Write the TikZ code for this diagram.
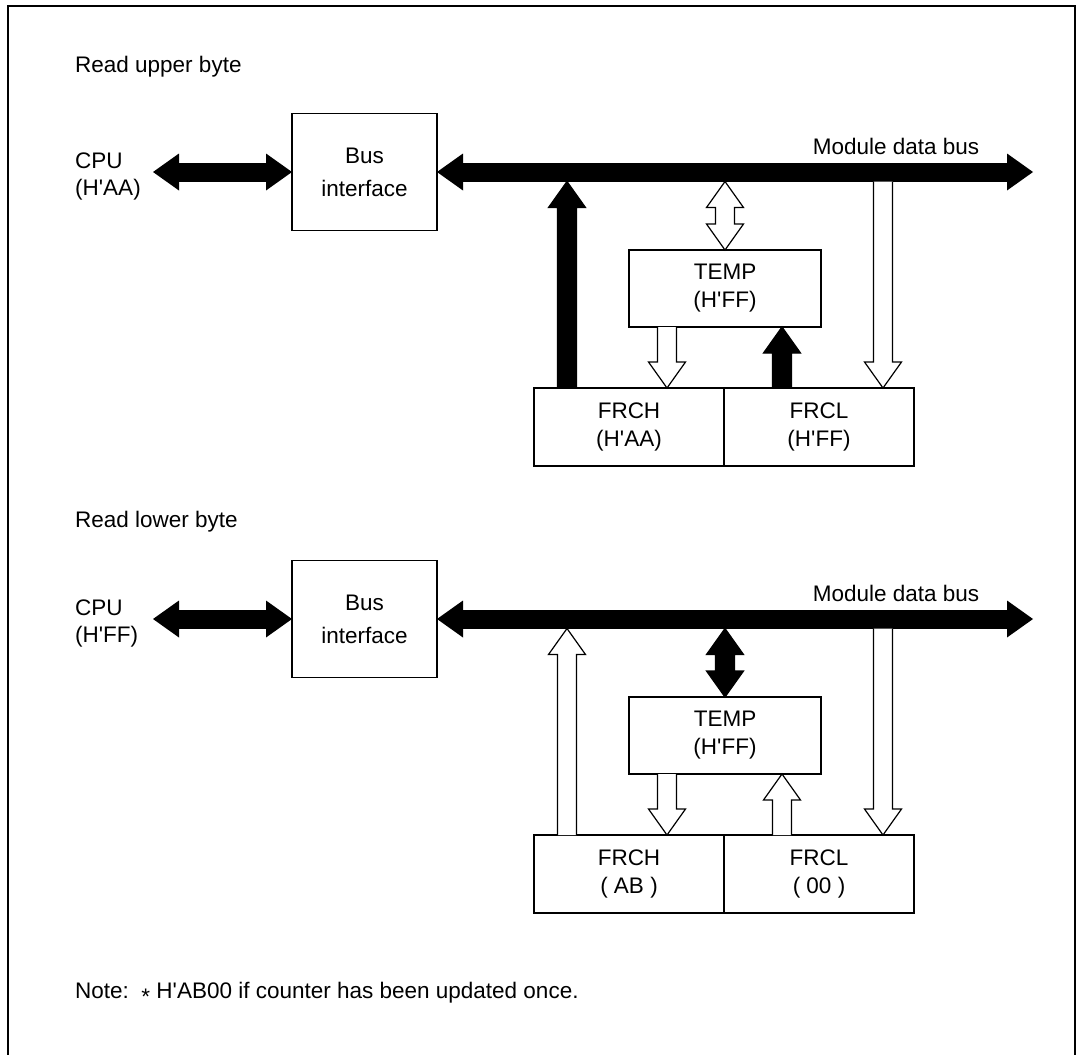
\documentclass[tikz,border=0pt]{standalone}
\usepackage{fontspec}
\setmainfont{Liberation Sans}
\usetikzlibrary{arrows.meta, positioning, calc}

\newcommand{\arrshaft}{9.5pt}
\newcommand{\arrhead}{18.5pt}
\newcommand{\arrlen}{26pt}
\newcommand{\hx}[1]{(H\textquotesingle #1)}

% vertical block arrow from #2, head at #3
\newcommand{\varrow}[3][white]{%
  \draw[blk, fill=#1] let \p1=(#2), \p2=(#3), \n1={ifthenelse(\y2>\y1,1,-1)} in
    (\x1-\arrshaft,\y1) -- (\x1-\arrshaft,\y2-\n1*\arrlen)
    -- (\x1-\arrhead,\y2-\n1*\arrlen) -- (\x1,\y2)
    -- (\x1+\arrhead,\y2-\n1*\arrlen) -- (\x1+\arrshaft,\y2-\n1*\arrlen)
    -- (\x1+\arrshaft,\y1);}
% vertical block arrow with heads at both ends
\newcommand{\vdarrow}[3][white]{%
  \draw[blk, fill=#1] let \p1=(#2), \p2=(#3), \n1={ifthenelse(\y2>\y1,1,-1)} in
    (\x1,\y1) -- (\x1+\arrhead,\y1+\n1*\arrlen) -- (\x1+\arrshaft,\y1+\n1*\arrlen)
    -- (\x1+\arrshaft,\y2-\n1*\arrlen) -- (\x1+\arrhead,\y2-\n1*\arrlen) -- (\x1,\y2)
    -- (\x1-\arrhead,\y2-\n1*\arrlen) -- (\x1-\arrshaft,\y2-\n1*\arrlen)
    -- (\x1-\arrshaft,\y1+\n1*\arrlen) -- (\x1-\arrhead,\y1+\n1*\arrlen) -- cycle;}

\begin{document}
\begin{tikzpicture}[
  x = 1pt, y = -1pt,
  txt/.style  = {font=\fontsize{22.5}{27}\selectfont, inner sep=0pt, align=left},
  box/.style  = {draw, line width=1.2pt, outer sep=0pt, inner sep=0pt,
                 font=\fontsize{22.5}{28}\selectfont, align=center},
  bif/.style  = {box, minimum width=145pt, minimum height=117pt,
                 font=\fontsize{22.5}{33}\selectfont},
  tmp/.style  = {box, minimum width=192pt, minimum height=77pt},
  reg/.style  = {box, minimum width=190pt, minimum height=78pt},
  bus/.style  = {line width=19pt,
                 {Triangle[length=26pt,width=37pt,line width=0pt]}-{Triangle[length=26pt,width=37pt,line width=0pt]}},
  blk/.style  = {draw, line width=1.2pt, line join=miter}
]
\useasboundingbox (0,0) rectangle (1082,1055);
\draw[line width=1.5pt] (8,1070) -- (8,6) -- (1075,6) -- (1075,1070);

% read upper byte
\node[txt, anchor=west] (title1) at (75,67) {Read upper byte};
\node[txt, anchor=west] (cpu1) at (75,176) {CPU\\\hx{AA}};
\node[bif] (bif1) at (364.5,172) {Bus\\interface};
\node[tmp] (temp1) at (725,288.5) {TEMP\\\hx{FF}};
\node[reg] (frch1) at (629,427) {FRCH\\\hx{AA}};
\node[reg, right=0pt of frch1] (frcl1) {FRCL\\\hx{FF}};
\coordinate (cpu1e) at (153,172);
\coordinate (bus1e) at (1033,172);
\coordinate (bus1b) at (1033,181.5);
\node[txt] (lbl1) at (896,146) {Module data bus};

\draw[bus] (cpu1e) -- (bif1.west);
\draw[bus] (bif1.east) -- (bus1e);

\coordinate (a1) at ([xshift=33pt]frch1.north west);
\coordinate (b1) at ([xshift=38pt]temp1.south west);
\coordinate (c1) at ([xshift=-39pt]temp1.south east);
\coordinate (d1) at ([xshift=-31pt]frcl1.north east);
\varrow[black]{a1}{a1 |- bus1b}
\vdarrow{temp1.north |- bus1b}{temp1.north}
\varrow{b1}{b1 |- frch1.north}
\varrow[black]{c1 |- frcl1.north}{c1}
\varrow{d1 |- bus1b}{d1}

% read lower byte
\node[txt, anchor=west] (title2) at (75,522) {Read lower byte};
\node[txt, anchor=west] (cpu2) at (75,623) {CPU\\\hx{FF}};
\node[bif] (bif2) at (364.5,619) {Bus\\interface};
\node[tmp] (temp2) at (725,735.5) {TEMP\\\hx{FF}};
\node[reg] (frch2) at (629,874) {FRCH\\(\ AB\ )};
\node[reg, right=0pt of frch2] (frcl2) {FRCL\\(\ 00\ )};
\coordinate (cpu2e) at (153,619);
\coordinate (bus2e) at (1033,619);
\coordinate (bus2b) at (1033,628.5);
\node[txt] (lbl2) at (896,593) {Module data bus};

\draw[bus] (cpu2e) -- (bif2.west);
\draw[bus] (bif2.east) -- (bus2e);

\coordinate (a2) at ([xshift=33pt]frch2.north west);
\coordinate (b2) at ([xshift=38pt]temp2.south west);
\coordinate (c2) at ([xshift=-39pt]temp2.south east);
\coordinate (d2) at ([xshift=-31pt]frcl2.north east);
\varrow{a2}{a2 |- bus2b}
\vdarrow[black]{temp2.north |- bus2b}{temp2.north}
\varrow{b2}{b2 |- frch2.north}
\varrow{c2 |- frcl2.north}{c2}
\varrow{d2 |- bus2b}{d2}

\node[txt, anchor=west] (note) at (75,993) {Note:\ \ \raisebox{-0.28em}{*} H\textquotesingle AB00 if counter has been updated once.};
\end{tikzpicture}
\end{document}
